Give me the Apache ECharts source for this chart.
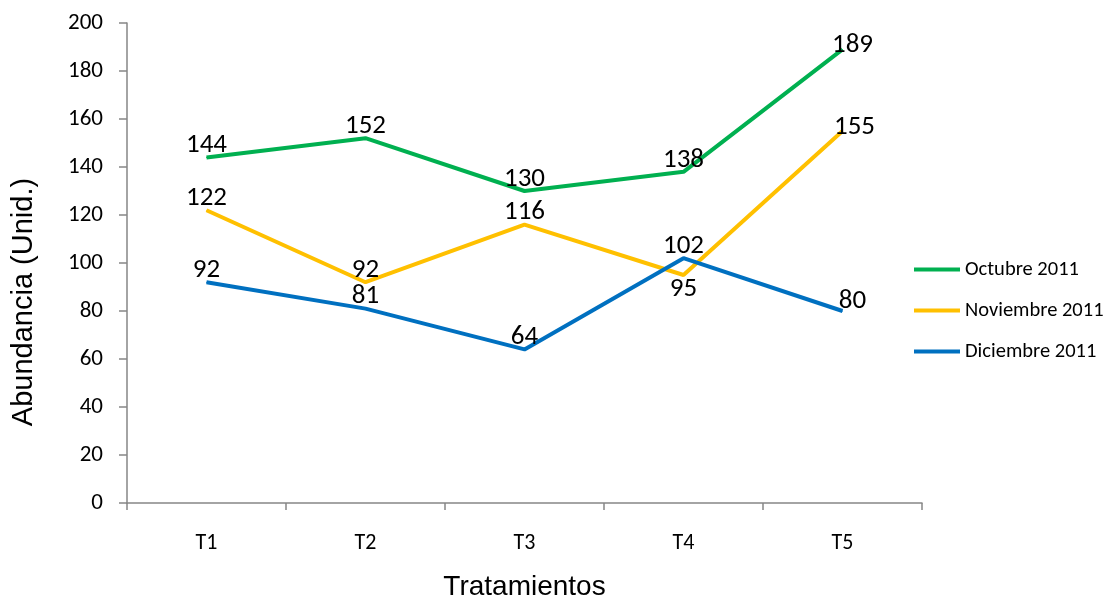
<!DOCTYPE html>
<html><head><meta charset="utf-8">
<script src="https://cdn.jsdelivr.net/npm/echarts@6/dist/echarts.min.js"></script>
<style>html,body{margin:0;padding:0;background:#fff}#c{width:1110px;height:598px}</style>
</head><body><div id="c"></div>
<script>
var categories = ['T1','T2','T3','T4','T5'];
var seriesNames = ['Octubre 2011','Noviembre 2011','Diciembre 2011'];
var octubre = [144,152,130,138,189];
var noviembre = [122,92,116,95,155];
var diciembre = [92,81,64,102,80];
var colors = ['#00B050','#FFC000','#0070C0'];
var FONT = 'Carlito, Lato, "Open Sans", sans-serif';

// label placement tweaks (by series index, point index)
var labelTweaks = {
  '0-4': {offset:[10,8]},
  '1-3': {position:'bottom', distance:0},
  '1-4': {offset:[12,8]},
  '2-4': {offset:[10,2]}
};
function build(vals, si){
  return vals.map(function(v,i){
    var t = labelTweaks[si+'-'+i];
    return t ? {value:v, label:t} : v;
  });
}
var all = [octubre, noviembre, diciembre];
var chart = echarts.init(document.getElementById('c'));
chart.setOption({
  animation:false,
  color: colors,
  grid:{left:127, right:188, top:23, bottom:95, containLabel:false, outerBoundsMode:'none'},
  legend:{
    orient:'vertical', left:914, top:258, padding:0, itemWidth:46, itemHeight:4, icon:'rect',
    itemGap:18, itemStyle:{borderWidth:0},
    textStyle:{fontFamily:FONT, fontSize:20.5, color:'#000', lineHeight:23, padding:[0,0,0,0]},
    data: seriesNames
  },
  xAxis:{
    type:'category', data:categories, boundaryGap:true,
    axisLine:{lineStyle:{color:'#868686', width:1.5}},
    axisTick:{show:true, length:7, lineStyle:{color:'#868686', width:1.5}, alignWithLabel:false},
    axisLabel:{fontFamily:FONT, fontSize:22, color:'#000', margin:29},
    name:'Tratamientos', nameLocation:'middle', nameGap:70,
    nameTextStyle:{fontFamily:'"Liberation Sans", Arial, sans-serif', fontSize:28, color:'#000'}
  },
  yAxis:{
    type:'value', min:0, max:200, interval:20,
    axisLine:{show:true, lineStyle:{color:'#868686', width:1.5}},
    axisTick:{show:true, length:8, lineStyle:{color:'#868686', width:1.5}},
    splitLine:{show:false},
    axisLabel:{fontFamily:FONT, fontSize:23, color:'#000', margin:24},
    name:'Abundancia (Unid.)', nameLocation:'middle', nameGap:89, nameRotate:90,
    nameTextStyle:{fontFamily:'"Liberation Sans", Arial, sans-serif', fontSize:29, color:'#000', padding:[0,78,0,0]}
  },
  series: all.map(function(vals, si){
    return {
      name: seriesNames[si], type:'line', data: build(vals, si),
      symbol:'circle', symbolSize:1, showSymbol:true,
      lineStyle:{width:4, color:colors[si]},
      itemStyle:{color:colors[si]},
      label:{show:true, position:'top', distance:-2, fontFamily:FONT, fontSize:27, color:'#000'}
    };
  })
});
</script></body></html>
